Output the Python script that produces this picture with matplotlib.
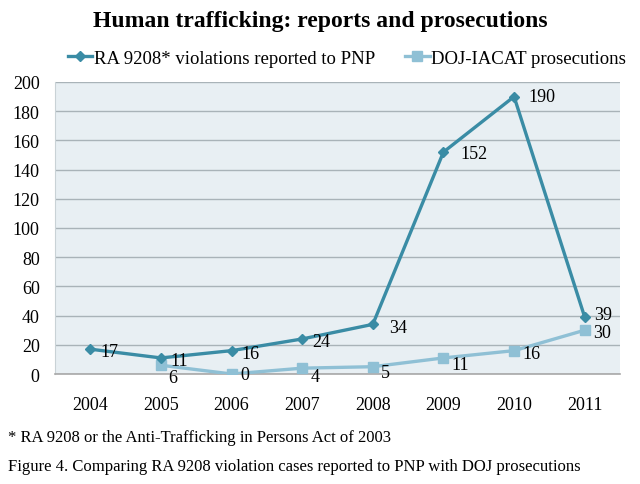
import matplotlib
matplotlib.use("Agg")
import matplotlib.pyplot as plt
from matplotlib.transforms import offset_copy

plt.rcParams['font.family'] = ['Liberation Serif', 'DejaVu Serif']

years = ['2004', '2005', '2006', '2007', '2008', '2009', '2010', '2011']
pnp_reports = [17, 11, 16, 24, 34, 152, 190, 39]
doj_years = ['2005', '2006', '2007', '2008', '2009', '2010', '2011']
doj_prosecutions = [6, 0, 4, 5, 11, 16, 30]
yticks = [0, 20, 40, 60, 80, 100, 120, 140, 160, 180, 200]

title = 'Human trafficking: reports and prosecutions'
label_pnp = 'RA 9208* violations reported to PNP'
label_doj = 'DOJ-IACAT prosecutions'
footnote = '* RA 9208 or the Anti-Trafficking in Persons Act of 2003'
caption = 'Figure 4. Comparing RA 9208 violation cases reported to PNP with DOJ prosecutions'

dark = '#3A8CA5'
light = '#8FC0D5'

fig = plt.figure(figsize=(6.4, 4.85), dpi=100)
ax = fig.add_axes([55/640, 1-375/485, (620-55)/640, (375-83)/485])
ax.set_facecolor('#E8EFF3')

xpos = {y: i for i, y in enumerate(years)}
x1 = [xpos[y] for y in years]
x2 = [xpos[y] for y in doj_years]

l1, = ax.plot(x1, pnp_reports, color=dark, lw=2.4, marker='D', ms=5.5, zorder=4, label=label_pnp)
l2, = ax.plot(x2, doj_prosecutions, color=light, lw=2.4, marker='s', ms=7.5, zorder=3, label=label_doj)

ax.set_xlim(-0.5, len(years)-0.5)
ax.set_ylim(0, 200)
ax.set_yticks(yticks)
ax.set_xticks(range(len(years)))
ax.set_xticklabels(years)
ax.tick_params(axis='both', length=0, labelsize=13)
ax.tick_params(axis='y', pad=11)
ax.tick_params(axis='x', pad=16)
ax.grid(axis='y', color='#A9B3B8', lw=1)
ax.set_axisbelow(True)
for s in ['top', 'right']:
    ax.spines[s].set_visible(False)
ax.spines['left'].set_color('#C9D2D6')
ax.spines['bottom'].set_color('#A8A8A8')
ax.spines['bottom'].set_linewidth(1.2)

dark_off = [(7, -2), (7, -2), (7, -2), (7, -2), (12, -2), (12, -1), (10, 0), (7, 2)]
for x, v, (dx, dy) in zip(x1, pnp_reports, dark_off):
    tr = offset_copy(ax.transData, fig=fig, x=dx, y=dy, units='points')
    ax.text(x, v, str(v), transform=tr, ha='left', va='center', fontsize=13, zorder=5)

light_off = [(5, -9), (6, 0), (6, -6), (6, -4), (6, -5), (6, -2), (6, -2)]
for x, v, (dx, dy) in zip(x2, doj_prosecutions, light_off):
    tr = offset_copy(ax.transData, fig=fig, x=dx, y=dy, units='points')
    ax.text(x, v, str(v), transform=tr, ha='left', va='center', fontsize=13, zorder=5)

fig.text(0.5, 1-22/485, title, ha='center', va='center', fontsize=17, fontweight='bold')
fig.legend(handles=[l1, l2], loc='center', bbox_to_anchor=(347/640, 1-59/485), ncol=2,
           frameon=False, fontsize=13.5, handlelength=1.3, handletextpad=0.1,
           columnspacing=1.6, markerscale=0.9)

fig.text(8/640, 1-438/485, footnote, ha='left', va='center', fontsize=12)
fig.text(8/640, 1-467/485, caption, ha='left', va='center', fontsize=12)

fig.savefig('out.png', dpi=100)
